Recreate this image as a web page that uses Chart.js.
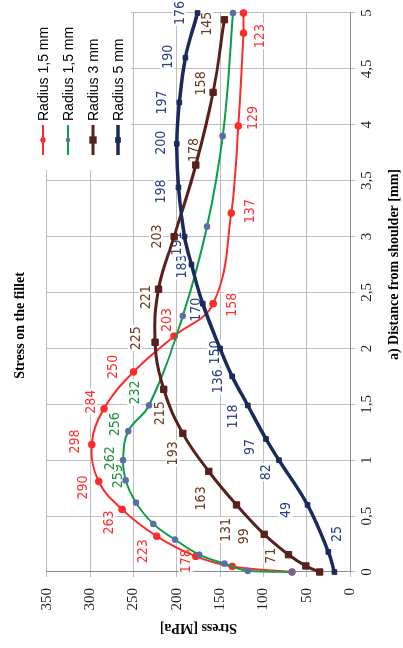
<!DOCTYPE html>
<html>
<head>
<meta charset="utf-8">
<script src="https://cdn.jsdelivr.net/npm/chart.js@4.4.1/dist/chart.umd.min.js"></script>
<style>
    html, body { margin: 0; padding: 0; background: #fff; }
    body { width: 403px; height: 648px; overflow: hidden; position: relative; }
    /* chart is drawn landscape, then turned 90deg counter-clockwise like the scan */
    #wrap { position: absolute; left: 0; top: 0; width: 648px; height: 403px;
            transform-origin: 0 0; transform: translate(0, 648px) rotate(-90deg); }
</style>
</head>
<body>
<div id="wrap"><canvas id="myChart" width="648" height="403"></canvas></div>
<script>
var seriesNames = ["Radius 1,5 mm", "Radius 1,5 mm", "Radius 3 mm", "Radius 5 mm"];
var xTitle = "a) Distance from shoulder [mm]";

var redX = [0, 0.05, 0.14, 0.32, 0.56, 0.81, 1.14, 1.46, 1.79, 2.11, 2.4, 3.21, 3.99, 4.82, 5];
var redY = [67, 136, 178, 223, 263, 290, 298, 284, 250, 203, 158, 137, 129, 123, 123];

var greenX = [0, 0.01, 0.075, 0.155, 0.29, 0.43, 0.62, 0.82, 1, 1.26, 1.49, 2.29, 3.09, 3.9, 5];
var greenY = [67, 118, 145, 174, 202, 227, 247, 259, 262, 256, 232, 193, 165, 147, 135];

var brownX = [0, 0.054, 0.155, 0.337, 0.6, 0.9, 1.24, 1.634, 2.055, 2.53, 3, 3.64, 4.29, 4.94];
var brownY = [35, 51, 71, 99, 131, 163, 193, 215, 225, 221, 203, 178, 158, 145];

var blueX = [0, 0.18, 0.6, 1, 1.19, 1.49, 1.75, 2, 2.4, 2.75, 3, 3.44, 3.83, 4.2, 4.6, 5];
var blueY = [18, 25, 49, 82, 97, 118, 136, 150, 170, 183, 191, 198, 200, 197, 190, 176];

var xTicks = { min: 0, max: 5, step: 0.5 };
var yTicks = { min: 0, max: 350, step: 50 };

// where each value label sits relative to its point (null = no label)
var redLabelPos = [null, null, [-5, -10], [-15, -14], [-13, -14], [-6, -16], [3, -17], [7, -14], [5, -21], [16, -8], [-1, 18], [2, 18], [8, 14], [-3, 16], null];
var greenLabelPos = [null, null, null, null, null, null, null, [4, -8], [2, -14], [7, -14], [13, -15], null, null, null, null];
var brownLabelPos = [null, null, [-1, -18], [-2, -21], [-25, -11], [-27, -8], [-20, -10], [-24, -4], [4, -20], [-8, -13], [0, -18], [15, -2], [9, -13], [-4, -18]];
var blueLabelPos = [null, [18, 8], [-5, -22], [-12, -14], [-8, -17], [-11, -15], [-5, -15], [-4, -6], [-6, -7], [-2, -10], [-7, -8], [-4, -18], [1, -16], [0, -18], [1, -18], [0, -18]];

var serif = "'Liberation Serif', 'DejaVu Serif', serif";
var narrow = "'Liberation Sans Narrow', 'DejaVu Sans Condensed', sans-serif";

function pts(xs, ys) {
    return xs.map(function (x, i) { return { x: x, y: ys[i] }; });
}

var dataLabels = {
    id: "dataLabels",
    beforeDatasetsDraw: function (chart) {
        var ctx = chart.ctx;
        ctx.save();
        ctx.font = "14px " + narrow;
        ctx.textAlign = "center";
        ctx.textBaseline = "middle";
        chart.data.datasets.forEach(function (ds, i) {
            var meta = chart.getDatasetMeta(i);
            ds.labelPos.forEach(function (off, j) {
                if (!off) return;
                var p = meta.data[j];
                var txt = String(ds.data[j].y);
                var w = ctx.measureText(txt).width;
                var cx = p.x + off[0], cy = p.y + off[1];
                ctx.fillStyle = "#fff";
                ctx.fillRect(cx - w / 2 - 1, cy - 7, w + 2, 14);
                ctx.fillStyle = ds.labelColor;
                ctx.fillText(txt, cx, cy + 1);
            });
        });
        ctx.restore();
    }
};

var boxLegend = {
    id: "boxLegend",
    beforeDatasetsDraw: function (chart) {
        var ctx = chart.ctx;
        ctx.save();
        ctx.fillStyle = "#fff";
        ctx.fillRect(478, 0, 170, 131);
        ctx.font = "14px 'Liberation Sans', Arial, sans-serif";
        ctx.textBaseline = "middle";
        ctx.textAlign = "left";
        chart.data.datasets.forEach(function (ds, i) {
            var y = 43 + 25 * i;
            ctx.strokeStyle = ds.borderColor;
            ctx.lineWidth = ds.borderWidth;
            ctx.beginPath();
            ctx.moveTo(493, y);
            ctx.lineTo(523, y);
            ctx.stroke();
            ctx.fillStyle = ds.pointBackgroundColor;
            var r = ds.pointRadius;
            if (ds.pointStyle === "rect") {
                var h = r * Math.SQRT1_2 + 0.5;
                ctx.fillRect(508 - h, y - h, 2 * h, 2 * h);
            } else {
                ctx.beginPath();
                ctx.arc(508, y, r, 0, Math.PI * 2);
                ctx.fill();
            }
            ctx.fillStyle = "#000";
            ctx.fillText(ds.label, 527, y + 1);
        });
        ctx.restore();
    }
};

// the x axis title sits off-centre in the original, so it is drawn here
var xAxisTitle = {
    id: "xAxisTitle",
    afterDraw: function (chart) {
        var ctx = chart.ctx;
        var sx = chart.scales.x;
        ctx.save();
        ctx.font = "bold 14px " + serif;
        ctx.fillStyle = "#000";
        ctx.textAlign = "center";
        ctx.textBaseline = "middle";
        ctx.fillText(xTitle, sx.left + sx.width * 0.55, sx.bottom - 9);
        ctx.restore();
    }
};

var config = {
    type: "line",
    data: {
        datasets: [
            {
                label: seriesNames[0], data: pts(redX, redY),
                borderColor: "#ff2b2b", borderWidth: 2, tension: 0.4,
                pointStyle: "circle", pointRadius: 2.8, pointBackgroundColor: "#ff2b2b", pointBorderColor: "#ff2b2b",
                labelPos: redLabelPos, labelColor: "#ff3030", order: 4, clip: false
            },
            {
                label: seriesNames[1], data: pts(greenX, greenY),
                borderColor: "#0d9e4a", borderWidth: 2, tension: 0.4,
                pointStyle: "circle", pointRadius: 2.3, pointBackgroundColor: "#5b6ea8", pointBorderColor: "#5b6ea8",
                labelPos: greenLabelPos, labelColor: "#1f8f3f", order: 3, clip: false
            },
            {
                label: seriesNames[2], data: pts(brownX, brownY),
                borderColor: "#58201c", borderWidth: 3, tension: 0.4,
                pointStyle: "rect", pointRadius: 4.5, pointBorderWidth: 1, pointBackgroundColor: "#58201c", pointBorderColor: "#58201c",
                labelPos: brownLabelPos, labelColor: "#6b3b22", order: 2, clip: false
            },
            {
                label: seriesNames[3], data: pts(blueX, blueY),
                borderColor: "#1b2a5c", borderWidth: 3.5, tension: 0.4,
                pointStyle: "rect", pointRadius: 3.3, pointBorderWidth: 1, pointBackgroundColor: "#1b2a5c", pointBorderColor: "#1b2a5c",
                labelPos: blueLabelPos, labelColor: "#2b3f80", order: 1, clip: false
            }
        ]
    },
    options: {
        responsive: false,
        animation: false,
        events: [],
        layout: { padding: { left: 10, right: 13, top: 0, bottom: 0 } },
        plugins: {
            legend: { display: false },
            tooltip: { enabled: false },
            title: {
                display: true, text: "Stress on the fillet", color: "#000",
                font: { family: serif, size: 14, weight: "bold" },
                padding: { top: 12, bottom: 18 }
            }
        },
        scales: {
            x: {
                type: "linear", min: xTicks.min, max: xTicks.max,
                ticks: {
                    stepSize: xTicks.step, autoSkip: false, maxRotation: 0, padding: 3, color: "#222",
                    font: { family: serif, size: 15 },
                    callback: function (v) { return String(v).replace(".", ","); }
                },
                grid: { color: "#bdbdbd", tickLength: 5 },
                border: { color: "#8c8c8c" },
                title: { display: false },
                afterFit: function (s) { s.height = 53; }
            },
            y: {
                min: yTicks.min, max: yTicks.max,
                ticks: { stepSize: yTicks.step, padding: 11, color: "#222", font: { family: serif, size: 15 } },
                grid: { color: "#bdbdbd", tickLength: 5 },
                border: { color: "#8c8c8c" },
                title: {
                    display: true, text: "Stress [MPa]", color: "#000",
                    font: { family: serif, size: 14, weight: "bold" }, padding: { top: 2, bottom: 0 }
                },
                afterFit: function (s) { s.width = 66; }
            }
        }
    },
    plugins: [dataLabels, boxLegend, xAxisTitle]
};

var ctx = document.getElementById("myChart");
window.myLine = new Chart(ctx, config);
</script>
</body>
</html>
